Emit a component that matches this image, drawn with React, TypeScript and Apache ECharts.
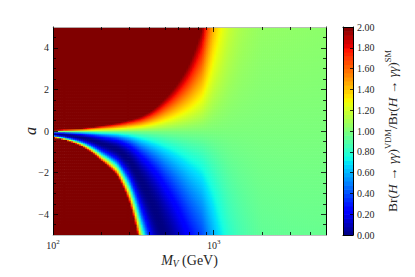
import { useEffect, useRef } from 'react';
import * as echarts from 'echarts';

const massSamples = [100, 150, 200, 250, 300, 350, 400, 500, 600, 700, 850, 1000, 1250, 1500, 2000, 3000, 5000];
// Fractional shift of the H->gamma gamma amplitude per unit of a (a > 0 half)
const shiftPositiveA = [6.0, 2.9, 1.5, 1.04, 0.76, 0.59, 0.44, 0.26, 0.178, 0.13, 0.083, 0.04, 0.018, 0.0105, 0.006, 0.005, 0.004];
// Same for the a < 0 half (zero line and lower red branch)
const shiftNegativeA = [8.5, 3.4, 1.7, 1.15, 0.7, 0.43, 0.31, 0.19, 0.135, 0.102, 0.075, 0.045, 0.021, 0.013, 0.0068, 0.0055, 0.005];

const aRange = [-5, 5];
const massRange = [100, 5000];
const aLabelTicks = [-4, -2, 0, 2, 4];
const aMinorTicks = [-4.5, -3.5, -3, -2.5, -1.5, -1, -0.5, 0.5, 1, 1.5, 2.5, 3, 3.5, 4.5];
const massMajorTicks = [100, 1000];
const massMinorTicks = [200, 300, 400, 500, 600, 700, 800, 900, 2000, 3000, 4000];
const colorbarTicks = [0, 0.2, 0.4, 0.6, 0.8, 1.0, 1.2, 1.4, 1.6, 1.8, 2.0];
const colorbarRange = [0, 2];
const colorbarLevels = 50;

const FONT = '"Liberation Serif", "DejaVu Serif", serif';
const TEXT = '#262626';

function jetColor(t: number): string {
  const seg = (pts: number[][]) => {
    for (let i = 1; i < pts.length; i++) {
      if (t <= pts[i][0]) {
        const [x0, y0] = pts[i - 1];
        const [x1, y1] = pts[i];
        return y0 + ((t - x0) / (x1 - x0)) * (y1 - y0);
      }
    }
    return pts[pts.length - 1][1];
  };
  const r = seg([[0, 0], [0.35, 0], [0.66, 1], [0.89, 1], [1, 0.5]]);
  const g = seg([[0, 0], [0.125, 0], [0.375, 1], [0.64, 1], [0.91, 0], [1, 0]]);
  const b = seg([[0, 0.5], [0.11, 1], [0.34, 1], [0.65, 0], [1, 0]]);
  const h = (v: number) => Math.round(Math.max(0, Math.min(1, v)) * 255).toString(16).padStart(2, '0');
  return '#' + h(r) + h(g) + h(b);
}

function shiftAt(logM: number, table: number[]): number {
  const lx = massSamples.map((m) => Math.log10(m));
  if (logM <= lx[0]) return table[0];
  for (let i = 1; i < lx.length; i++) {
    if (logM <= lx[i]) {
      const f = (logM - lx[i - 1]) / (lx[i] - lx[i - 1]);
      return Math.exp(Math.log(table[i - 1]) + f * (Math.log(table[i]) - Math.log(table[i - 1])));
    }
  }
  return table[table.length - 1];
}

export default function App() {
  const ref = useRef<HTMLDivElement>(null);
  useEffect(() => {
    if (!ref.current) return;
    const chart = echarts.init(ref.current, undefined, { renderer: 'svg' });

    const xMin = Math.log10(massRange[0]);
    const xMax = Math.log10(massRange[1]);
    const nCols = 137;
    const nRows = 139;
    const dx = (xMax - xMin) / nCols;
    const dy = (aRange[1] - aRange[0]) / nRows;
    const cells: number[][] = [];
    for (let i = 0; i < nCols; i++) {
      const x0 = xMin + i * dx;
      const xc = x0 + dx / 2;
      const gUp = shiftAt(xc, shiftPositiveA);
      const gDn = shiftAt(xc, shiftNegativeA);
      for (let j = 0; j < nRows; j++) {
        const y0 = aRange[0] + j * dy;
        const a = y0 + dy / 2;
        const g = a >= 0 ? gUp : gDn;
        const ratio = (1 + a * g) * (1 + a * g);
        cells.push([x0, x0 + dx, y0, y0 + dy, Math.min(ratio, colorbarRange[1])]);
      }
    }
    const bar: number[][] = [];
    const step = (colorbarRange[1] - colorbarRange[0]) / colorbarLevels;
    for (let k = 0; k < colorbarLevels; k++) {
      bar.push([0, 1, k * step, (k + 1) * step, (k + 0.5) * step]);
    }

    const jet: string[] = [];
    for (let k = 0; k <= 100; k++) jet.push(jetColor(k / 100));

    const renderCell = (_p: any, api: any) => {
      const p0 = api.coord([api.value(0), api.value(3)]);
      const p1 = api.coord([api.value(1), api.value(2)]);
      return {
        type: 'rect',
        shape: { x: p0[0], y: p0[1], width: p1[0] - p0[0] + 0.6, height: p1[1] - p0[1] + 0.6 },
        style: { fill: api.visual('color') },
      };
    };

    const grid = { left: 53, top: 27, width: 273, height: 208 };
    const frameGrey = 'rgba(185,185,185,0.9)';
    const hidden = { show: false };
    const noLine = { show: false, onZero: false };
    const line = (color: string) => ({ show: true, onZero: false, lineStyle: { color, width: 1 } });
    const ticks = (len: number, values: number[]) => ({
      show: true, inside: true, length: len, customValues: values, lineStyle: { color: '#000', width: 0.8 },
    });
    const majorX = massMajorTicks.map((m) => Math.log10(m));
    const minorX = massMinorTicks.map((m) => Math.log10(m));

    chart.setOption({
      animation: false,
      grid: [
        { ...grid },
        { ...grid },
        { left: 343, top: 27, width: 10, height: 208 },
      ],
      visualMap: {
        type: 'continuous',
        show: false,
        min: colorbarRange[0],
        max: colorbarRange[1],
        dimension: 4,
        seriesIndex: [0, 1],
        inRange: { color: jet },
      },
      xAxis: [
        {
          gridIndex: 0, type: 'value', position: 'bottom', min: xMin, max: xMax, z: 10,
          axisLine: line(frameGrey),
          axisTick: ticks(5, majorX),
          axisLabel: {
            show: true, margin: 3, customValues: majorX,
            formatter: (v: number) => '{b|10}{s|' + Math.round(v) + '}',
            rich: {
              b: { fontSize: 10, lineHeight: 14, fontFamily: FONT, color: TEXT },
              s: { fontSize: 7, lineHeight: 8, verticalAlign: 'top', fontFamily: FONT, color: TEXT },
            },
          },
          splitLine: hidden,
          name: '{i|M}{u|V}{n| (GeV)}',
          nameLocation: 'middle',
          nameGap: 17,
          nameMoveOverlap: false,
          nameTextStyle: {
            rich: {
              i: { fontSize: 14, fontStyle: 'italic', fontFamily: FONT, color: TEXT, lineHeight: 17 },
              u: { fontSize: 9.5, fontStyle: 'italic', fontFamily: FONT, color: TEXT, lineHeight: 9, verticalAlign: 'bottom' },
              n: { fontSize: 14, fontFamily: FONT, color: TEXT, lineHeight: 17 },
            },
          },
        },
        {
          gridIndex: 0, type: 'value', position: 'top', min: xMin, max: xMax, z: 10,
          axisLine: line(frameGrey), axisTick: ticks(5, majorX), axisLabel: hidden, splitLine: hidden,
        },
        {
          gridIndex: 1, type: 'value', position: 'bottom', min: xMin, max: xMax, z: 10,
          axisLine: noLine, axisTick: ticks(3, minorX), axisLabel: hidden, splitLine: hidden,
        },
        {
          gridIndex: 1, type: 'value', position: 'top', min: xMin, max: xMax, z: 10,
          axisLine: noLine, axisTick: ticks(3, minorX), axisLabel: hidden, splitLine: hidden,
        },
        {
          gridIndex: 2, type: 'value', position: 'bottom', min: 0, max: 1, z: 10,
          axisLine: line('#000'), axisTick: hidden, axisLabel: hidden, splitLine: hidden,
        },
        {
          gridIndex: 2, type: 'value', position: 'top', min: 0, max: 1, z: 10,
          axisLine: line('#000'), axisTick: hidden, axisLabel: hidden, splitLine: hidden,
        },
      ],
      yAxis: [
        {
          gridIndex: 0, type: 'value', position: 'left', min: aRange[0], max: aRange[1], z: 10,
          axisLine: line('#000'),
          axisTick: ticks(5, aLabelTicks),
          axisLabel: {
            show: true, margin: 4, customValues: aLabelTicks,
            formatter: (v: number) => (v < 0 ? '\u2212' + Math.abs(v) : String(v)),
            fontSize: 10, fontFamily: FONT, color: TEXT,
          },
          splitLine: hidden,
          name: 'a',
          nameLocation: 'middle',
          nameRotate: 90,
          nameGap: 15,
          nameMoveOverlap: false,
          nameTextStyle: { fontSize: 16, fontStyle: 'italic', fontFamily: FONT, color: TEXT },
        },
        {
          gridIndex: 0, type: 'value', position: 'right', min: aRange[0], max: aRange[1], z: 10,
          axisLine: line('#000'), axisTick: ticks(5, aLabelTicks), axisLabel: hidden, splitLine: hidden,
        },
        {
          gridIndex: 1, type: 'value', position: 'left', min: aRange[0], max: aRange[1], z: 10,
          axisLine: noLine, axisTick: ticks(3, aMinorTicks), axisLabel: hidden, splitLine: hidden,
        },
        {
          gridIndex: 1, type: 'value', position: 'right', min: aRange[0], max: aRange[1], z: 10,
          axisLine: noLine, axisTick: ticks(3, aMinorTicks), axisLabel: hidden, splitLine: hidden,
        },
        {
          gridIndex: 2, type: 'value', position: 'right', min: colorbarRange[0], max: colorbarRange[1], z: 10,
          axisLine: line('#000'),
          axisTick: ticks(3, colorbarTicks),
          axisLabel: {
            show: true, margin: 4, customValues: colorbarTicks,
            formatter: (v: number) => v.toFixed(2),
            fontSize: 10, fontFamily: FONT, color: TEXT,
          },
          splitLine: hidden,
          name: '{n|Br(}{i|H}{n| \u2192 }{i|\u03B3\u03B3}{n|)}{s|VDM}{n|/Br(}{i|H}{n| \u2192 }{i|\u03B3\u03B3}{n|)}{s|SM}',
          nameLocation: 'middle',
          nameRotate: 90,
          nameGap: 30,
          nameMoveOverlap: false,
          nameTextStyle: {
            rich: {
              n: { fontSize: 13.5, fontFamily: FONT, color: TEXT, lineHeight: 18 },
              i: { fontSize: 13.5, fontStyle: 'italic', fontFamily: FONT, color: TEXT, lineHeight: 18 },
              s: { fontSize: 8.5, fontFamily: FONT, color: TEXT, lineHeight: 10, verticalAlign: 'top' },
            },
          },
        },
        {
          gridIndex: 2, type: 'value', position: 'left', min: colorbarRange[0], max: colorbarRange[1], z: 10,
          axisLine: line('#000'), axisTick: hidden, axisLabel: hidden, splitLine: hidden,
        },
      ],
      series: [
        {
          type: 'custom',
          xAxisIndex: 0,
          yAxisIndex: 0,
          clip: true,
          silent: true,
          progressive: 0,
          progressiveThreshold: 1000000,
          renderItem: renderCell,
          encode: { x: [0, 1], y: [2, 3] },
          data: cells,
          z: 2,
        },
        {
          type: 'custom',
          xAxisIndex: 4,
          yAxisIndex: 4,
          clip: true,
          silent: true,
          progressive: 0,
          renderItem: renderCell,
          encode: { x: [0, 1], y: [2, 3] },
          data: bar,
          z: 2,
        },
      ],
    });
    return () => chart.dispose();
  }, []);
  return <div ref={ref} style={{ position: 'absolute', left: 0, top: 0, width: 415, height: 277 }} />;
}
